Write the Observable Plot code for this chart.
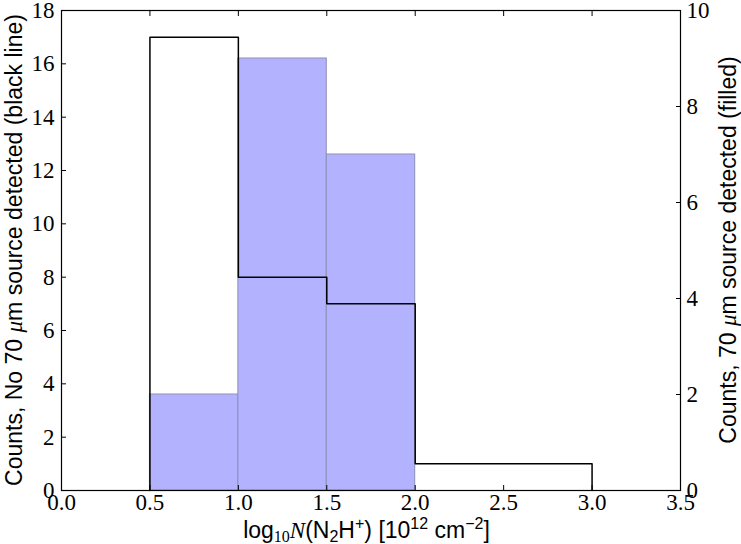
<!DOCTYPE html>
<html>
<head>
<meta charset="utf-8">
<script src="https://cdn.jsdelivr.net/npm/d3@7"></script>
<script src="https://cdn.jsdelivr.net/npm/@observablehq/plot@0.6"></script>
<style>
  html, body { margin: 0; padding: 0; background: #fff; }
  #chart { width: 741px; height: 544px; }
</style>
</head>
<body>
<div id="chart"></div>
<script>
// ---- data ----
const binEdges = [0.5, 1.0, 1.5, 2.0, 2.5, 3.0];
const countsNoSource = [17, 8, 7, 1, 1];   // black step line, left axis
const countsSource = [2, 9, 7, 0, 0];      // filled bars, right axis
const xTicks = [0.0, 0.5, 1.0, 1.5, 2.0, 2.5, 3.0, 3.5];
const leftTicks = [0, 2, 4, 6, 8, 10, 12, 14, 16, 18];
const rightTicks = [0, 2, 4, 6, 8, 10];
const leftMax = 18, rightMax = 10;
const k = leftMax / rightMax;

const bars = countsSource.map((v, i) => ({x1: binEdges[i], x2: binEdges[i + 1], v}))
  .filter(d => d.v > 0);
const steps = [{x: binEdges[0], y: 0}]
  .concat(countsNoSource.map((v, i) => ({x: binEdges[i], y: v})))
  .concat([{x: binEdges[binEdges.length - 1], y: 0}]);

const W = 741, H = 544;
const mL = 61, mR = 61, mT = 10, mB = 54;
const serif = "'Liberation Serif', 'DejaVu Serif', serif";
const sans = "'Liberation Sans', 'DejaVu Sans', sans-serif";

const plot = Plot.plot({
  width: W, height: H,
  marginLeft: mL, marginRight: mR, marginTop: mT, marginBottom: mB,
  style: {fontFamily: serif, fontSize: "23px", background: "#fff", color: "#000", overflow: "visible"},
  x: {domain: [0, 3.5]},
  y: {domain: [0, leftMax]},
  marks: [
    Plot.rectY(bars, {x1: "x1", x2: "x2", y1: 0, y2: d => d.v * k,
      fill: "#b2b2ff", stroke: "#8f8fb8", strokeWidth: 1}),
    Plot.line(steps, {x: "x", y: "y", curve: "step-after", stroke: "#000", strokeWidth: 1.5}),
    // inward tick marks
    Plot.axisX(xTicks, {anchor: "bottom", tickSize: -5, tickFormat: () => "", label: null, stroke: "#000"}),
    Plot.axisX(xTicks, {anchor: "top", tickSize: -5, tickFormat: () => "", label: null, stroke: "#000"}),
    Plot.axisY(leftTicks, {anchor: "left", tickSize: -5, tickFormat: () => "", label: null, stroke: "#000"}),
    Plot.axisY(rightTicks.map(v => v * k), {anchor: "right", tickSize: -5, tickFormat: () => "", label: null, stroke: "#000"}),
    // tick labels
    Plot.axisX(xTicks, {anchor: "bottom", tickSize: 0, tickPadding: 3, tickFormat: d => d.toFixed(1), label: null, fontSize: 23}),
    Plot.axisY(leftTicks, {anchor: "left", tickSize: 0, tickPadding: 7, tickFormat: d => String(d), label: null, fontSize: 23}),
    Plot.axisY(rightTicks.map(v => v * k), {anchor: "right", tickSize: 0, tickPadding: 6, tickFormat: d => String(Math.round(d / k)), label: null, fontSize: 23}),
    Plot.frame({stroke: "#000", strokeWidth: 1.2})
  ]
});

document.getElementById("chart").appendChild(plot);

// axis titles with sub/superscripts
const svg = d3.select(plot);
const cx = mL + (W - mL - mR) / 2;
const cy = mT + (H - mT - mB) / 2;

const xl = svg.append("text")
  .attr("x", cx - 4).attr("y", 538)
  .attr("text-anchor", "middle")
  .style("font-family", sans).style("font-size", "23px").attr("fill", "#000");
xl.append("tspan").text("log");
xl.append("tspan").attr("dy", 4).style("font-size", "16px").style("font-family", serif).text("10");
xl.append("tspan").attr("dy", -4).style("font-family", serif).style("font-style", "italic").text("N");
xl.append("tspan").text("(N");
xl.append("tspan").attr("dy", 4).style("font-size", "16px").text("2");
xl.append("tspan").attr("dy", -4).text("H");
xl.append("tspan").attr("dy", -9).style("font-size", "16px").text("+");
xl.append("tspan").attr("dy", 9).text(") [10");
xl.append("tspan").attr("dy", -9).style("font-size", "16px").text("12");
xl.append("tspan").attr("dy", 9).text(" cm");
xl.append("tspan").attr("dy", -9).style("font-size", "16px").text("\u22122");
xl.append("tspan").attr("dy", 9).text("]");

function yLabel(x, parts) {
  const t = svg.append("text")
    .attr("transform", `translate(${x},${cy}) rotate(-90)`)
    .attr("text-anchor", "middle")
    .style("font-family", sans).style("font-size", "23px").attr("fill", "#000");
  t.append("tspan").text(parts[0]);
  t.append("tspan").style("font-family", serif).style("font-style", "italic").text("\u03bc");
  t.append("tspan").text(parts[1]);
}
yLabel(22, ["Counts, No 70 ", "m source detected (black line)"]);
yLabel(736, ["Counts, 70 ", "m source detected (filled)"]);
</script>
</body>
</html>
